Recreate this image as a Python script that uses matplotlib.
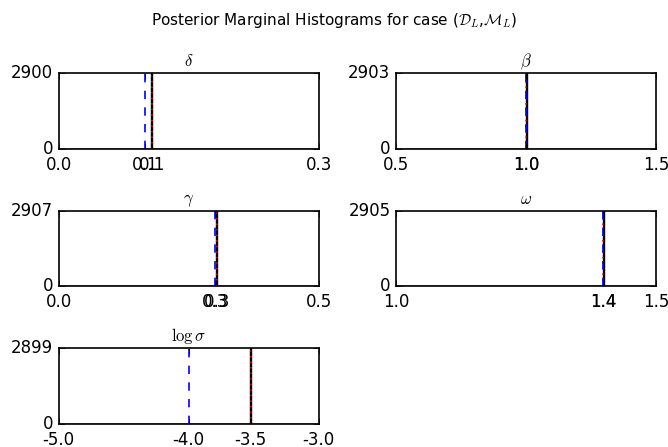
import matplotlib
matplotlib.use('Agg')
import matplotlib.pyplot as plt
import numpy as np

# parameter names, axis ranges, true values, posterior estimates, peak counts
names = [r'$\delta$', r'$\beta$', r'$\gamma$', r'$\omega$', r'$\log\sigma$']
xmins = [0.0, 0.5, 0.0, 1.0, -5.0]
xmaxs = [0.3, 1.5, 0.5, 1.5, -3.0]
true_vals = [0.0995, 1.0, 0.301, 1.398, -4.0]
est_vals = [0.1076, 1.0, 0.3035, 1.399, -3.525]
counts = [2900, 2903, 2907, 2905, 2899]

plt.style.use('classic')
plt.rcParams['axes.linewidth'] = 1.2
plt.rcParams['xtick.major.pad'] = 5
fig = plt.figure(figsize=(6.68, 4.47))
fig.subplots_adjust(left=0.088, right=0.982, bottom=0.0515, top=0.8367,
                    wspace=0.297, hspace=0.816)

for i in range(len(names)):
    ax = fig.add_subplot(3, 2, i + 1)
    lo, hi = xmins[i], xmaxs[i]
    bins = np.linspace(lo, hi, 201)
    ax.hist([est_vals[i]], bins=bins, weights=[counts[i]], histtype='stepfilled',
            facecolor='k', edgecolor='k', linewidth=1.0)
    ax.axvline(est_vals[i], color='r', linestyle=':', linewidth=1.2)
    ax.axvline(true_vals[i], color='b', linestyle='--', linewidth=1.2)
    ax.set_xlim(lo, hi)
    ax.set_ylim(0, counts[i])
    ax.set_xticks([lo, true_vals[i], est_vals[i], hi])
    ax.set_xticklabels(['%.1f' % v for v in [lo, true_vals[i], est_vals[i], hi]])
    ax.set_yticks([0, counts[i]])
    ax.set_yticklabels(['0', str(counts[i])])
    ax.set_title(names[i], fontsize=12)

fig.suptitle(r'Posterior Marginal Histograms for case ($\mathcal{D}_L$,$\mathcal{M}_L$)',
             fontsize=11, y=0.975)

fig.savefig('out.png', dpi=100, facecolor='white')
